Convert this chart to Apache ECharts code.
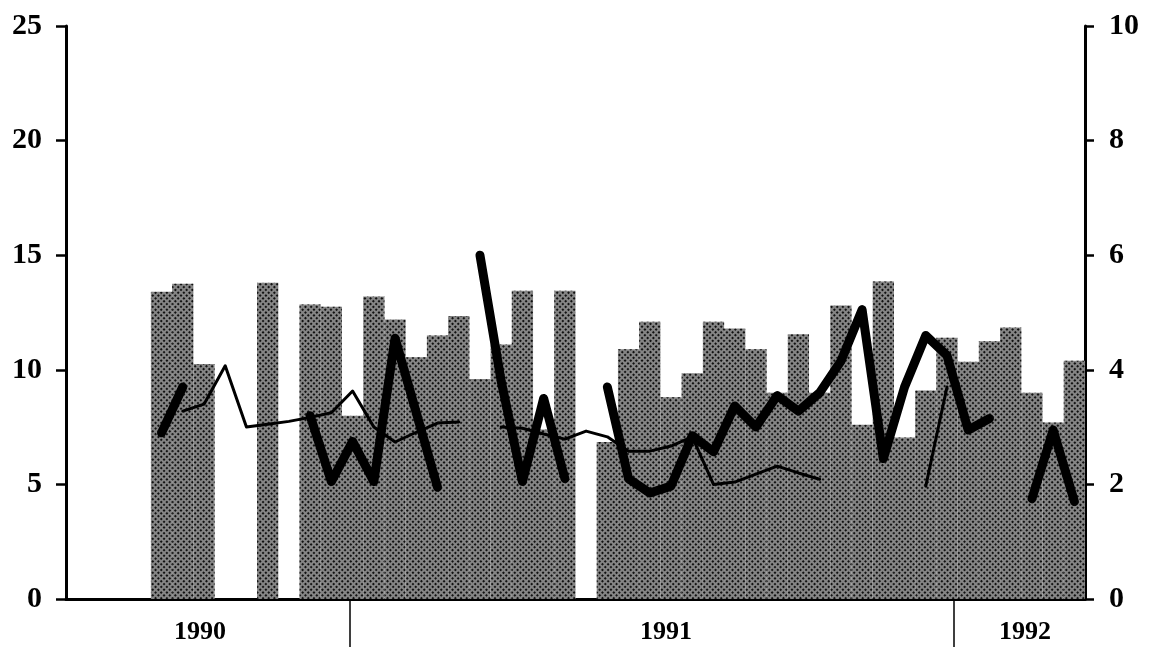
<!DOCTYPE html>
<html>
<head>
<meta charset="utf-8">
<script src="https://cdn.jsdelivr.net/npm/echarts@6/dist/echarts.min.js"></script>
<style>
  html, body { margin: 0; padding: 0; background: #fff; }
  #chart { width: 1150px; height: 648px; }
</style>
</head>
<body>
<div id="chart"></div>
<script>
// 48 periods along the x axis (1990 - early 1992)
const periods = [
  '1', '2', '3', '4', '5', '6', '7', '8', '9', '10', '11', '12',
  '13', '14', '15', '16', '17', '18', '19', '20', '21', '22', '23', '24',
  '25', '26', '27', '28', '29', '30', '31', '32', '33', '34', '35', '36',
  '37', '38', '39', '40', '41', '42', '43', '44', '45', '46', '47', '48'
]

// bars, left axis (0-25)
const barValues = [
  null, null, null, null, 13.4, 13.75, 10.25, null, null, 13.8, null, 12.85,
  12.75, 8.0, 13.2, 12.2, 10.55, 11.5, 12.35, 9.6, 11.1, 13.45, 7.4, 13.45,
  null, 6.85, 10.9, 12.1, 8.8, 9.85, 12.1, 11.8, 10.9, 9.0, 11.55, 9.0,
  12.8, 7.6, 13.85, 7.05, 9.1, 11.4, 10.35, 11.25, 11.85, 9.0, 7.7, 10.4
]

// thick line, right axis (0-10)
const thickValues = [
  null, null, null, null, 2.9, 3.7, null, null, null, null, null, 3.2,
  2.05, 2.75, 2.05, 4.55, 3.25, 1.95, null, 6.0, 3.8, 2.05, 3.5, 2.1,
  null, 3.7, 2.1, 1.85, 1.97, 2.85, 2.57, 3.37, 3.0, 3.55, 3.28, 3.6,
  4.15, 5.05, 2.45, 3.7, 4.6, 4.25, 2.95, 3.15, null, 1.75, 2.95, 1.7
]

// thin line, right axis (0-10)
const thinValues = [
  null, null, null, null, null, 3.28, 3.4, 4.07, 3.0, 3.05, 3.1, 3.17,
  3.25, 3.63, 3.0, 2.74, 2.91, 3.07, 3.09, null, 3.0, 2.98, 2.88, 2.79,
  2.93, 2.83, 2.58, 2.58, 2.67, 2.83, 2.0, 2.04, 2.18, 2.32, 2.2, 2.09,
  null, null, null, null, 1.97, 3.7, null, null, null, null, null, null
]

// year labels and year boundaries, in period units along the axis
const years = ['1990', '1991', '1992']
const yearLabelAt = [6.31, 28.26, 45.17]
const yearBreaks = [13.38, 41.82]

const font = 'Liberation Serif, Times New Roman, serif'

const chart = echarts.init(document.getElementById('chart'))

const option = {
  animation: false,
  backgroundColor: '#fff',
  grid: { left: 66, right: 65, top: 26, bottom: 49 },
  xAxis: [
    {
      type: 'category',
      data: periods,
      boundaryGap: true,
      axisLine: { lineStyle: { color: '#000', width: 3 } },
      axisTick: { show: false },
      axisLabel: { show: false },
      splitLine: { show: false }
    },
    {
      type: 'value',
      min: 0,
      max: 48,
      position: 'bottom',
      axisLine: { show: false },
      splitLine: { show: false },
      axisTick: {
        show: true,
        customValues: yearBreaks,
        length: 48,
        lineStyle: { color: '#000', width: 1.5 }
      },
      axisLabel: {
        customValues: yearLabelAt,
        formatter: (v) => {
          const i = yearLabelAt.indexOf(v)
          return i >= 0 ? years[i] : ''
        },
        margin: 20,
        color: '#000',
        fontFamily: font,
        fontWeight: 'bold',
        fontSize: 26
      }
    }
  ],
  yAxis: [
    {
      type: 'value',
      min: 0,
      max: 25,
      interval: 5,
      position: 'left',
      axisLine: { show: true, lineStyle: { color: '#000', width: 3 } },
      axisTick: { show: true, length: 10, lineStyle: { color: '#000', width: 2.5 } },
      axisLabel: {
        margin: 24,
        color: '#000',
        fontFamily: font,
        fontWeight: 'bold',
        fontSize: 30
      },
      splitLine: { show: false }
    },
    {
      type: 'value',
      min: 0,
      max: 10,
      interval: 2,
      position: 'right',
      axisLine: { show: true, lineStyle: { color: '#000', width: 3 } },
      axisTick: { show: true, length: 9, lineStyle: { color: '#000', width: 2.5 } },
      axisLabel: {
        margin: 24,
        color: '#000',
        fontFamily: font,
        fontWeight: 'bold',
        fontSize: 30
      },
      splitLine: { show: false }
    }
  ],
  series: [
    {
      name: 'bars',
      type: 'bar',
      xAxisIndex: 0,
      yAxisIndex: 0,
      data: barValues,
      barCategoryGap: '0%',
      itemStyle: {
        color: '#858585',
        decal: {
          symbol: 'rect',
          symbolSize: 1,
          color: '#111',
          dashArrayX: [2, 2],
          dashArrayY: [2, 2],
          rotation: Math.PI / 4
        }
      },
      emphasis: { disabled: true },
      z: 1
    },
    {
      name: 'thin',
      type: 'line',
      xAxisIndex: 0,
      yAxisIndex: 1,
      data: thinValues,
      symbol: 'none',
      connectNulls: false,
      lineStyle: { color: '#000', width: 3, cap: 'round', join: 'round' },
      z: 3
    },
    {
      name: 'thick',
      type: 'line',
      xAxisIndex: 0,
      yAxisIndex: 1,
      data: thickValues,
      symbol: 'none',
      connectNulls: false,
      lineStyle: { color: '#000', width: 9, cap: 'round', join: 'round' },
      z: 4
    }
  ]
}

chart.setOption(option)

window.addEventListener('resize', () => chart.resize())
</script>
</body>
</html>
